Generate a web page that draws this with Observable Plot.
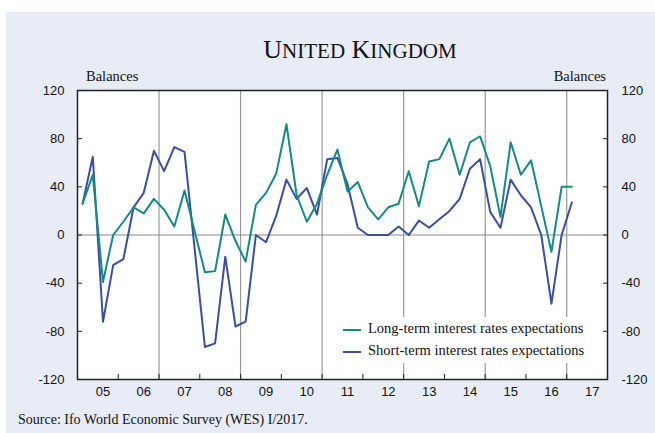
<!DOCTYPE html>
<html><head><meta charset="utf-8">
<script src="https://cdn.jsdelivr.net/npm/d3@7"></script>
<script src="https://cdn.jsdelivr.net/npm/@observablehq/plot@0.6"></script>
<style>
body{margin:0;background:#fff;}
#wrap{position:relative;width:655px;height:433px;overflow:hidden;background:#fff;}
#panel{position:absolute;left:6px;top:12px;width:649px;height:421px;background:#e7ecf7;}
#chart{position:absolute;left:0;top:0;}
.serif{font-family:"Liberation Serif","Times New Roman",serif;color:#111;position:absolute;white-space:nowrap;line-height:1;}
#title{left:360px;top:37px;transform:translateX(-50%);font-size:26px;}
#title .sc{font-size:21px;}
#balL{left:86px;top:69px;font-size:14.5px;}
#balR{right:49px;top:69px;font-size:14.5px;}
#source{left:18px;top:413px;font-size:14px;}
#legend{position:absolute;left:337px;top:317px;width:258px;height:46px;background:#fff;}
.lrow{position:absolute;left:6px;height:18px;width:250px;}
.lsw{position:absolute;left:0;top:7px;width:18px;height:2px;}
.ltx{position:absolute;left:25px;top:0;font-family:"Liberation Serif","Times New Roman",serif;font-size:14.5px;line-height:1;color:#111;white-space:nowrap;}
</style></head>
<body>
<div id="wrap">
  <div id="panel"></div>
  <div id="chart"></div>
  <div id="title" class="serif">U<span class="sc">NITED</span> K<span class="sc">INGDOM</span></div>
  <div id="balL" class="serif">Balances</div>
  <div id="balR" class="serif">Balances</div>
  <div id="legend">
    <div class="lrow" style="top:4px"><div class="lsw" style="top:8px;background:#138a84"></div><div class="ltx">Long-term interest rates expectations</div></div>
    <div class="lrow" style="top:26px"><div class="lsw" style="top:8px;background:#3a4fa3"></div><div class="ltx">Short-term interest rates expectations</div></div>
  </div>
  <div id="source" class="serif">Source: Ifo World Economic Survey (WES) I/2017.</div>
</div>
<script>
// Quarterly survey data, 2005 Q1 – 2017 Q1
const firstYear = 2005;
const longTerm = [26, 50, -39, 0, 11, 23, 18, 30, 21, 7, 37, 3,
  -31, -30, 17, -5, -22, 25, 35, 51, 92, 33, 11, 26,
  50, 71, 36, 44, 23, 13, 23, 26, 53, 24, 61, 63,
  80, 50, 77, 82, 57, 15, 77, 50, 62, 24, -14, 40, 40];
const shortTerm = [26, 65, -72, -25, -20, 23, 35, 70, 53, 73, 69, -12,
  -93, -90, -18, -76, -72, 0, -6, 16, 46, 30, 39, 17,
  63, 64, 42, 6, 0, 0, 0, 7, 0, 12, 6, 13,
  20, 30, 55, 63, 19, 6, 46, 33, 23, 0, -57, 0, 27];
const yearLabels = ["05","06","07","08","09","10","11","12","13","14","15","16","17"];
const yTicks = [-120, -80, -40, 0, 40, 80, 120];
const gridYears = [2007, 2009, 2011, 2013, 2015, 2017];
const boundaryYears = [2006, 2007, 2008, 2009, 2010, 2011, 2012, 2013, 2014, 2015, 2016, 2017];

const qTime = i => firstYear + Math.floor(i / 4) + (i % 4) / 4 + 0.125;
const longData = longTerm.map((v, i) => ({t: qTime(i), v}));
const shortData = shortTerm.map((v, i) => ({t: qTime(i), v}));
const labelPos = yearLabels.map((s, i) => firstYear + i + 0.625);

const teal = "#138a84", blue = "#3a4fa3";

const chart = Plot.plot({
  width: 655, height: 433,
  marginLeft: 77, marginRight: 48, marginTop: 90, marginBottom: 54,
  style: {background: "transparent", fontFamily: "'Liberation Sans', Arial, sans-serif", fontSize: "13px", color: "#111"},
  x: {domain: [2005, 2018]},
  y: {domain: [-120, 120]},
  marks: [
    Plot.frame({fill: "white", stroke: "none"}),
    Plot.ruleX(gridYears, {stroke: "#999", strokeWidth: 1.2}),
    Plot.ruleY([0], {stroke: "#888", strokeWidth: 1}),
    Plot.line(shortData, {x: "t", y: "v", stroke: blue, strokeWidth: 2}),
    Plot.line(longData, {x: "t", y: "v", stroke: teal, strokeWidth: 2}),
    Plot.axisY({anchor: "left", ticks: yTicks, tickSize: -5, tickPadding: 18, label: null, stroke: "#222", tickFormat: d => String(d)}),
    Plot.axisY({anchor: "right", ticks: yTicks, tickSize: -5, tickPadding: 19, label: null, stroke: "#222", tickFormat: d => String(d)}),
    Plot.axisX({ticks: labelPos, tickSize: 0, tickPadding: 7, label: null, tickFormat: d => yearLabels[Math.floor(d + 1e-6) - firstYear]}),
    Plot.axisX({ticks: boundaryYears, tickSize: -5, tickFormat: () => "", label: null, stroke: "#222"}),
    Plot.frame({stroke: "#222", strokeWidth: 1.5})
  ]
});
document.getElementById("chart").appendChild(chart);
</script>
</body></html>
